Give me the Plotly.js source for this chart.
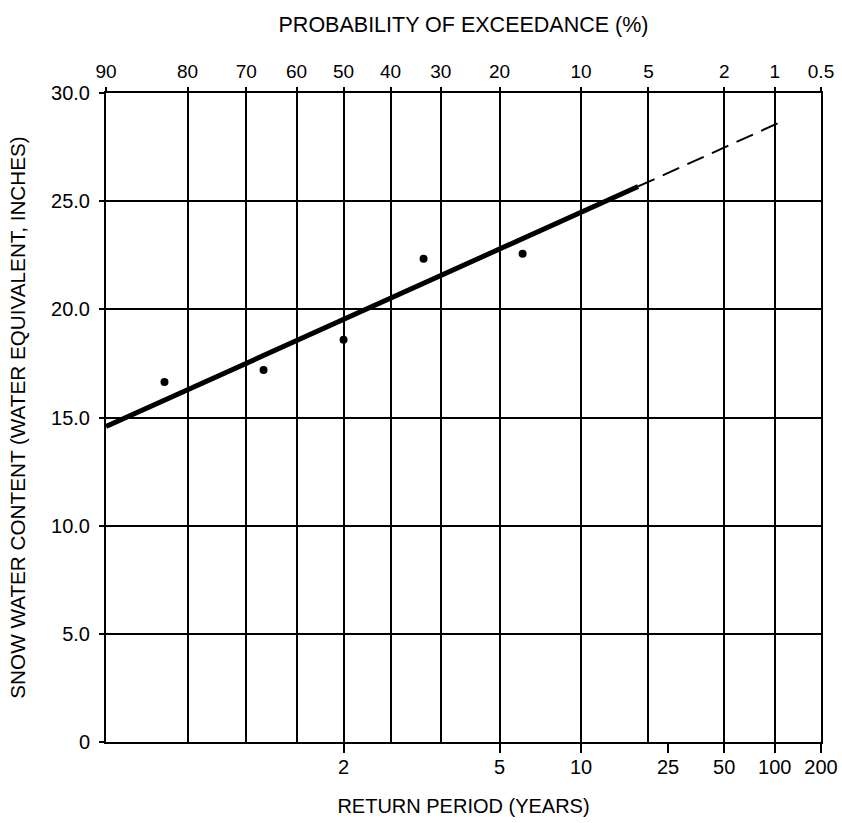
<!DOCTYPE html>
<html>
<head>
<meta charset="utf-8">
<script src="https://cdn.plot.ly/plotly-3.0.1.min.js"></script>
<style>body{margin:0;padding:0;background:#fff;}#chart{width:842px;height:823px;}</style>
</head>
<body>
<div id="chart"></div>
<script>
// ---- data ----
const exceedTicks = [90, 80, 70, 60, 50, 40, 30, 20, 10, 5, 2, 1, 0.5];
const exceedLabels = ['90', '80', '70', '60', '50', '40', '30', '20', '10', '5', '2', '1', '0.5'];
const returnPeriods = [2, 5, 10, 25, 50, 100, 200];
const returnLabels = ['2', '5', '10', '25', '50', '100', '200'];
const yTicks = [0, 5, 10, 15, 20, 25, 30];
const yLabels = ['0', '5.0', '10.0', '15.0', '20.0', '25.0', '30.0'];

// observed points: exceedance probability (%) and snow water content (in)
const pointProb = [83.3, 66.7, 50, 33.3, 16.7];
const pointValue = [16.64, 17.19, 18.59, 22.34, 22.57];

// fitted line (solid part and dashed extrapolation)
const fitSolidProb = [90, 5.6];
const fitSolidValue = [14.58, 25.68];
const fitDashProb = [5.6, 0.88];
const fitDashValue = [25.68, 28.72];

// ---- normal probability scale ----
function qnorm(p) {
  const a = [-3.969683028665376e+01, 2.209460984245205e+02, -2.759285104469687e+02, 1.383577518672690e+02, -3.066479806614716e+01, 2.506628277459239e+00];
  const b = [-5.447609879822406e+01, 1.615858368580409e+02, -1.556989798598866e+02, 6.680131188771972e+01, -1.328068155288572e+01];
  const c = [-7.784894002430293e-03, -3.223964580411365e-01, -2.400758277161838e+00, -2.549671402826574e+00, 4.374664141464968e+00, 2.938163982698783e+00];
  const d = [7.784695709041462e-03, 3.224671290700398e-01, 2.445134137142996e+00, 3.754408661907416e+00];
  const pl = 0.02425, ph = 1 - pl;
  let q, r;
  if (p < pl) {
    q = Math.sqrt(-2 * Math.log(p));
    return (((((c[0]*q+c[1])*q+c[2])*q+c[3])*q+c[4])*q+c[5]) / ((((d[0]*q+d[1])*q+d[2])*q+d[3])*q+1);
  }
  if (p <= ph) {
    q = p - 0.5; r = q * q;
    return (((((a[0]*r+a[1])*r+a[2])*r+a[3])*r+a[4])*r+a[5])*q / (((((b[0]*r+b[1])*r+b[2])*r+b[3])*r+b[4])*r+1);
  }
  q = Math.sqrt(-2 * Math.log(1 - p));
  return -(((((c[0]*q+c[1])*q+c[2])*q+c[3])*q+c[4])*q+c[5]) / ((((d[0]*q+d[1])*q+d[2])*q+d[3])*q+1);
}
const zExceed = P => qnorm(1 - P / 100);
const zReturn = T => qnorm(1 - 1 / T);

const xRange = [zExceed(90), zExceed(0.5)];
const FONT = 'Liberation Sans, Arial, Helvetica, sans-serif';

const traces = [
  {
    x: fitSolidProb.map(zExceed), y: fitSolidValue, xaxis: 'x', yaxis: 'y',
    mode: 'lines', line: {color: '#000', width: 5}, hoverinfo: 'skip', showlegend: false
  },
  {
    x: fitDashProb.map(zExceed), y: fitDashValue, xaxis: 'x', yaxis: 'y',
    mode: 'lines', line: {color: '#000', width: 2, dash: '18px,9px'}, hoverinfo: 'skip', showlegend: false
  },
  {
    x: pointProb.map(zExceed), y: pointValue, xaxis: 'x', yaxis: 'y',
    mode: 'markers', marker: {color: '#000', size: 8}, showlegend: false
  },
  {
    x: xRange, y: [0, 0], xaxis: 'x2', yaxis: 'y',
    mode: 'none', hoverinfo: 'skip', showlegend: false
  }
];

const layout = {
  width: 842, height: 823,
  margin: {l: 106, r: 21, t: 93, b: 81, pad: 0},
  paper_bgcolor: '#fff', plot_bgcolor: '#fff',
  font: {family: FONT, color: '#000', size: 20},
  showlegend: false,
  xaxis: {
    range: xRange, type: 'linear',
    tickmode: 'array', tickvals: returnPeriods.map(zReturn), ticktext: returnLabels,
    ticks: 'outside', ticklen: 9, tickwidth: 2, tickcolor: '#000',
    showgrid: false, zeroline: false,
    showline: true, linecolor: '#000', linewidth: 2,
    tickfont: {family: FONT, size: 20, color: '#000'},
    ticklabelstandoff: -3,
    title: {text: 'RETURN PERIOD (YEARS)', font: {family: FONT, size: 20, color: '#000'}, standoff: 22},
    automargin: false
  },
  xaxis2: {
    range: xRange, type: 'linear', overlaying: 'x', side: 'top', anchor: 'y',
    tickmode: 'array', tickvals: exceedTicks.map(zExceed), ticktext: exceedLabels,
    ticks: 'outside', ticklen: 4, tickwidth: 2, tickcolor: '#000',
    showgrid: true, gridcolor: '#000', gridwidth: 2, zeroline: false,
    showline: true, linecolor: '#000', linewidth: 2,
    tickfont: {family: FONT, size: 19, color: '#000'},
    ticklabelstandoff: 1,
    title: {text: 'PROBABILITY OF EXCEEDANCE (%)', font: {family: FONT, size: 21.5, color: '#000'}, standoff: 23},
    automargin: false
  },
  yaxis: {
    range: [0, 30], type: 'linear',
    tickmode: 'array', tickvals: yTicks, ticktext: yLabels,
    ticks: 'outside', ticklen: 5, tickwidth: 2, tickcolor: '#000',
    showgrid: true, gridcolor: '#000', gridwidth: 2, zeroline: false,
    showline: true, mirror: true, linecolor: '#000', linewidth: 2,
    tickfont: {family: FONT, size: 20, color: '#000'},
    ticklabelstandoff: 5,
    title: {text: 'SNOW WATER CONTENT (WATER EQUIVALENT, INCHES)', font: {family: FONT, size: 20.7, color: '#000'}, standoff: 20},
    automargin: false
  }
};

Plotly.newPlot('chart', traces, layout, {displayModeBar: false, staticPlot: true});
</script>
</body>
</html>
